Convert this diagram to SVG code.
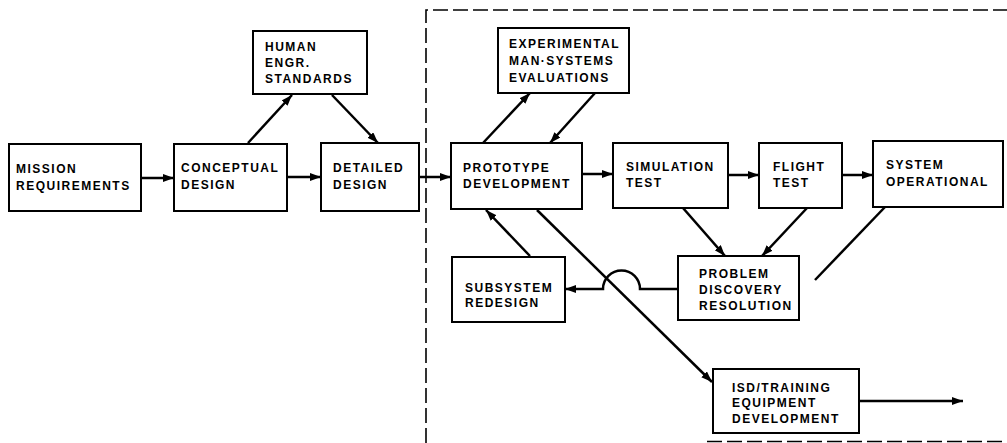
<svg xmlns="http://www.w3.org/2000/svg" width="1007" height="443" viewBox="0 0 1007 443">
<style>
.box{fill:#fff;stroke:#000;stroke-width:2}
.t{font-family:"Liberation Sans",Arial,sans-serif;font-weight:bold;font-size:12px;letter-spacing:1.5px;fill:#000}
.c{fill:none;stroke:#000;stroke-width:2.5}
.d{fill:none;stroke:#000;stroke-width:1.6;stroke-dasharray:15 5}
</style>
<defs>
<marker id="a" markerUnits="userSpaceOnUse" markerWidth="12" markerHeight="10" refX="11" refY="4" orient="auto">
<path d="M0,0 L11,4 L0,8 z" fill="#000"/>
</marker>
</defs>
<rect width="1007" height="443" fill="#fff"/>
<g id="boundary">
<path class="d" d="M426,443 L426,10 L1007,10"/>
<path class="d" d="M707,441.5 L1007,441.5"/>
</g>
<g id="connectors">
<path class="c" d="M141,178 L174,178" marker-end="url(#a)"/>
<path class="c" d="M287,177 L321,177" marker-end="url(#a)"/>
<path class="c" d="M248,143 L292,95" marker-end="url(#a)"/>
<path class="c" d="M332,95 L378,143" marker-end="url(#a)"/>
<path class="c" d="M419,177 L451,177" marker-end="url(#a)"/>
<path class="c" d="M483,143 L530,93" marker-end="url(#a)"/>
<path class="c" d="M595,93 L550,143" marker-end="url(#a)"/>
<path class="c" d="M582,174 L613,174" marker-end="url(#a)"/>
<path class="c" d="M728,175 L759,175" marker-end="url(#a)"/>
<path class="c" d="M842,175 L873,175" marker-end="url(#a)"/>
<path class="c" d="M683,208 L725,256" marker-end="url(#a)"/>
<path class="c" d="M807,208 L762,256" marker-end="url(#a)"/>
<path class="c" d="M885,207 L815,280"/>
<path class="c" d="M530,256 L486,210" marker-end="url(#a)"/>
<path class="c" d="M537,210 L712,382" marker-end="url(#a)"/>
<path class="c" d="M678,289 L640,289 A18.5,18.5 0 0 0 603,289 L565,289" marker-end="url(#a)"/>
<path class="c" d="M859,401 L963,401" marker-end="url(#a)"/>
</g>
<g id="mission">
<rect class="box" x="9" y="144" width="132" height="67"/>
<text class="t" x="16" y="173">MISSION</text>
<text class="t" x="16" y="190">REQUIREMENTS</text>
</g>
<g id="conceptual">
<rect class="box" x="174" y="144" width="113" height="67"/>
<text class="t" x="181" y="172">CONCEPTUAL</text>
<text class="t" x="181" y="189">DESIGN</text>
</g>
<g id="human">
<rect class="box" x="253" y="31" width="114" height="63"/>
<text class="t" x="265" y="51">HUMAN</text>
<text class="t" x="265" y="67">ENGR.</text>
<text class="t" x="265" y="83">STANDARDS</text>
</g>
<g id="detailed">
<rect class="box" x="321" y="143" width="98" height="68"/>
<text class="t" x="333" y="172">DETAILED</text>
<text class="t" x="333" y="189">DESIGN</text>
</g>
<g id="experimental">
<rect class="box" x="498" y="28" width="131" height="65"/>
<text class="t" x="509" y="48">EXPERIMENTAL</text>
<text class="t" x="509" y="65">MAN·SYSTEMS</text>
<text class="t" x="509" y="82">EVALUATIONS</text>
</g>
<g id="prototype">
<rect class="box" x="451" y="143" width="131" height="66"/>
<text class="t" x="463" y="172">PROTOTYPE</text>
<text class="t" x="463" y="188">DEVELOPMENT</text>
</g>
<g id="simulation">
<rect class="box" x="613" y="143" width="115" height="65"/>
<text class="t" x="626" y="171">SIMULATION</text>
<text class="t" x="626" y="187">TEST</text>
</g>
<g id="flight">
<rect class="box" x="759" y="143" width="83" height="65"/>
<text class="t" x="773" y="171">FLIGHT</text>
<text class="t" x="773" y="187">TEST</text>
</g>
<g id="operational">
<rect class="box" x="873" y="141" width="130" height="66"/>
<text class="t" x="886" y="169">SYSTEM</text>
<text class="t" x="886" y="186">OPERATIONAL</text>
</g>
<g id="subsystem">
<rect class="box" x="452" y="257" width="113" height="65"/>
<text class="t" x="465" y="292">SUBSYSTEM</text>
<text class="t" x="465" y="307">REDESIGN</text>
</g>
<g id="problem">
<rect class="box" x="678" y="256" width="121" height="64"/>
<text class="t" x="699" y="278">PROBLEM</text>
<text class="t" x="699" y="294">DISCOVERY</text>
<text class="t" x="699" y="310">RESOLUTION</text>
</g>
<g id="isd">
<rect class="box" x="713" y="369" width="146" height="64"/>
<text class="t" x="732" y="392">ISD/TRAINING</text>
<text class="t" x="732" y="407">EQUIPMENT</text>
<text class="t" x="732" y="423">DEVELOPMENT</text>
</g>
</svg>
